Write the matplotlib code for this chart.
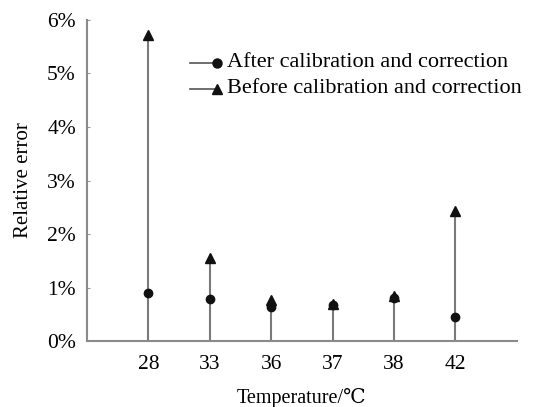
import numpy as np
import matplotlib
matplotlib.use('Agg')
import matplotlib.pyplot as plt

plt.rcParams['font.family'] = ['Liberation Serif', 'DejaVu Serif']

temps = ['28', '33', '36', '37', '38', '42']
after = [0.89, 0.78, 0.64, 0.68, 0.80, 0.45]    # relative error, %
before = [5.72, 1.55, 0.77, 0.69, 0.84, 2.43]   # relative error, %

x = np.arange(1, len(temps) + 1)

fig = plt.figure(figsize=(5.44, 4.07), dpi=100)
ax = fig.add_axes([0.160, 0.162, 0.790, 0.789])

ax.vlines(x, 0, np.maximum(after, before), color='#7a7a7a', lw=1.5, zorder=1)
ax.plot(x, before, ls='none', marker='^', ms=7, color='#111111', zorder=2)
ax.plot(x, after, ls='none', marker='o', ms=6, color='#111111', zorder=3)

ax.set_xlim(0, 7)
ax.set_ylim(0, 6)
ax.set_xticks(x)
ax.set_xticklabels(temps)
ax.set_yticks(range(0, 7))
ax.set_yticklabels(['%d%%' % v for v in range(0, 7)])
ax.tick_params(axis='x', length=0, labelsize=15.5, pad=10)
ax.tick_params(axis='y', direction='in', length=2, color='#999999', labelsize=15.5, pad=8)

for s in ['top', 'right']:
    ax.spines[s].set_visible(False)
for s in ['left', 'bottom']:
    ax.spines[s].set_color('#8a8a8a')
    ax.spines[s].set_linewidth(1.5)

ax.set_xlabel('Temperature/\u2103', fontsize=14.5, labelpad=10)
ax.set_ylabel('Relative error', fontsize=15, labelpad=10)

# legend: line with marker at its right end
leg = [('o', 'After calibration and correction', 0.866),
       ('^', 'Before calibration and correction', 0.785)]
for m, lab, yy in leg:
    ax.plot([0.240, 0.302], [yy, yy], transform=ax.transAxes, color='#555555', lw=1.2, clip_on=False)
    ax.plot([0.302], [yy], transform=ax.transAxes, marker=m, ms=6.5, color='#111111', clip_on=False)
    ax.text(0.326, yy, lab, transform=ax.transAxes, fontsize=16, va='center', ha='left')

fig.savefig('out.png', dpi=100)
